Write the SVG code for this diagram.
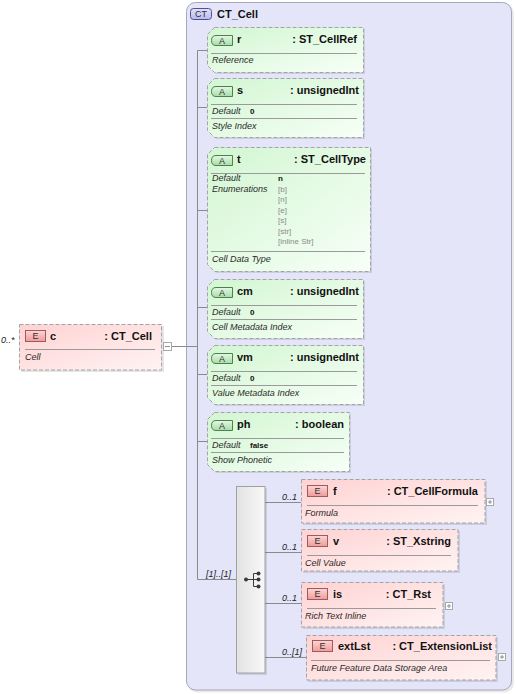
<svg xmlns="http://www.w3.org/2000/svg" width="516" height="694" viewBox="0 0 516 694">
<defs>
<linearGradient id="gA" x1="0" y1="0" x2="1" y2="1"><stop offset="0" stop-color="#d2f6d2"/><stop offset="1" stop-color="#f7fff7"/></linearGradient>
<linearGradient id="gE" x1="0" y1="0" x2="1" y2="1"><stop offset="0" stop-color="#ffd2d2"/><stop offset="1" stop-color="#fff3f3"/></linearGradient>
<linearGradient id="gSeq" x1="0" y1="0" x2="1" y2="0"><stop offset="0" stop-color="#e2e2e2"/><stop offset="1" stop-color="#f8f8f8"/></linearGradient>
<linearGradient id="gBA" x1="0" y1="0" x2="0" y2="1"><stop offset="0" stop-color="#e4f8e4"/><stop offset="1" stop-color="#a8dca8"/></linearGradient>
<linearGradient id="gBE" x1="0" y1="0" x2="0" y2="1"><stop offset="0" stop-color="#fbd6d6"/><stop offset="1" stop-color="#f09a9a"/></linearGradient>
<linearGradient id="gCT" x1="0" y1="0" x2="0" y2="1"><stop offset="0" stop-color="#e2e2fb"/><stop offset="1" stop-color="#b8b8ee"/></linearGradient>
</defs>
<style>
.box-a{fill:url(#gA);stroke:#a4a4a4;stroke-dasharray:4 2}
.box-e{fill:url(#gE);stroke:#a4a4a4;stroke-dasharray:4 2}
.sh{fill:#000;opacity:.1}
.badge-a{fill:url(#gBA);stroke:#4c804c}
.badge-e{fill:url(#gBE);stroke:#a05a5a}
.bt{font:9px "Liberation Sans",Arial,sans-serif;fill:#303030;text-anchor:middle}
.nm{font:bold 11px "Liberation Sans",Arial,sans-serif;fill:#111}
.ty{font:bold 11px "Liberation Sans",Arial,sans-serif;fill:#111;text-anchor:end}
.ds{font:italic 9px "Liberation Sans",Arial,sans-serif;fill:#2a2a2a}
.vl{font:bold 8px "Liberation Sans",Arial,sans-serif;fill:#111}
.en{font:8px "Liberation Sans",Arial,sans-serif;fill:#8a8a8a}
.sep{stroke:#9a9a9a;stroke-width:1}
.conn{stroke:#8a8a8a;stroke-width:1;fill:none}
.card{font:italic 9px "Liberation Sans",Arial,sans-serif;fill:#222}
.tog{fill:#fff;stroke:#a8a8a8}
.togl{stroke:#909090}
</style>

<g id="CT_Cell">
<rect x="188" y="4.5" width="326" height="688" rx="9" fill="#000" opacity=".08"/>
<rect x="186.5" y="2.5" width="325" height="687.5" rx="9" fill="#e5e5fa" stroke="#a6a6bc"/>
<rect x="190.5" y="8.5" width="21" height="11" rx="3" fill="url(#gCT)" stroke="#50508e"/>
<text x="201" y="17.3" class="bt" fill="#2c2c60">CT</text>
<text x="217" y="18" class="nm">CT_Cell</text>
</g>

<g id="connectors">
<path class="conn" d="M171 346.5H197.5M197.5 50.5V579.5H236"/>
<path class="conn" d="M197.5 50.5H207M197.5 107.5H207M197.5 210.5H207M197.5 307.5H207M197.5 374.5H207M197.5 441.5H207"/>
<path class="conn" d="M265 502.5H301M265 552.5H301M265 603.5H301M265 657.5H306"/>
<text x="206" y="577" class="card">[1]..[1]</text>
<text x="282" y="500" class="card">0..1</text>
<text x="282" y="550" class="card">0..1</text>
<text x="282" y="601" class="card">0..1</text>
<text x="282" y="655" class="card">0..[1]</text>
</g>

<g id="c">
<rect x="21" y="326" width="143" height="46" class="sh"/>
<rect x="19.5" y="324.5" width="142" height="45.5" class="box-e"/>
<rect x="25.5" y="330.5" width="20" height="11" class="badge-e"/>
<text x="35.5" y="339.3" class="bt">E</text>
<text x="50" y="340" class="nm">c</text>
<text x="152" y="340" class="ty">: CT_Cell</text>
<line x1="25" y1="349.5" x2="155" y2="349.5" class="sep"/>
<text x="25" y="360" class="ds">Cell</text>
<text x="1" y="343" class="card">0..*</text>
<rect x="163.5" y="342.5" width="8" height="8" class="tog"/>
<line x1="165" y1="346.5" x2="170" y2="346.5" class="togl"/>
</g>

<g id="r">
<path d="M216 29H365V74H216L209 67V36Z" class="sh"/>
<path d="M214.5 27.5H363.5V72.5H214.5L207.5 65.5V34.5Z" class="box-a"/>
<path d="M216 35.5H232.5V45.5H216Q211.5 45.5 211.5 40.5Q211.5 35.5 216 35.5Z" class="badge-a"/>
<text x="222" y="44" class="bt">A</text>
<text x="237" y="43" class="nm">r</text>
<text x="357" y="43" class="ty">: ST_CellRef</text>
<line x1="211" y1="53.5" x2="357" y2="53.5" class="sep"/>
<text x="212" y="63" class="ds">Reference</text>
</g>

<g id="s">
<path d="M216 80H365V139H216L209 132V87Z" class="sh"/>
<path d="M214.5 78.5H363.5V137.5H214.5L207.5 130.5V85.5Z" class="box-a"/>
<path d="M216 86.5H232.5V96.5H216Q211.5 96.5 211.5 91.5Q211.5 86.5 216 86.5Z" class="badge-a"/>
<text x="222" y="95" class="bt">A</text>
<text x="237" y="94" class="nm">s</text>
<text x="359" y="94" class="ty">: unsignedInt</text>
<line x1="211" y1="104.5" x2="357" y2="104.5" class="sep"/>
<text x="212" y="114" class="ds">Default</text>
<text x="250" y="114" class="vl">0</text>
<line x1="211" y1="118.5" x2="357" y2="118.5" class="sep"/>
<text x="212" y="129" class="ds">Style Index</text>
</g>

<g id="t">
<path d="M216 149H372V273H216L209 266V156Z" class="sh"/>
<path d="M214.5 147.5H370.5V271.5H214.5L207.5 264.5V154.5Z" class="box-a"/>
<path d="M216 155.5H232.5V165.5H216Q211.5 165.5 211.5 160.5Q211.5 155.5 216 155.5Z" class="badge-a"/>
<text x="222" y="164" class="bt">A</text>
<text x="237" y="163" class="nm">t</text>
<text x="366" y="163" class="ty">: ST_CellType</text>
<line x1="211" y1="173.5" x2="365" y2="173.5" class="sep"/>
<text x="212" y="181" class="ds">Default</text>
<text x="278" y="181" class="vl">n</text>
<text x="212" y="191.5" class="ds">Enumerations</text>
<text x="278" y="191.5" class="en">[b]</text>
<text x="278" y="202" class="en">[n]</text>
<text x="278" y="212.5" class="en">[e]</text>
<text x="278" y="223" class="en">[s]</text>
<text x="278" y="233.5" class="en">[str]</text>
<text x="278" y="244" class="en">[inline Str]</text>
<line x1="211" y1="251.5" x2="365" y2="251.5" class="sep"/>
<text x="212" y="262" class="ds">Cell Data Type</text>
</g>

<g id="cm">
<path d="M216 281H365V340H216L209 333V288Z" class="sh"/>
<path d="M214.5 279.5H363.5V338.5H214.5L207.5 331.5V286.5Z" class="box-a"/>
<path d="M216 287.5H232.5V297.5H216Q211.5 297.5 211.5 292.5Q211.5 287.5 216 287.5Z" class="badge-a"/>
<text x="222" y="296" class="bt">A</text>
<text x="237" y="295" class="nm">cm</text>
<text x="359" y="295" class="ty">: unsignedInt</text>
<line x1="211" y1="305.5" x2="357" y2="305.5" class="sep"/>
<text x="212" y="315" class="ds">Default</text>
<text x="250" y="315" class="vl">0</text>
<line x1="211" y1="319.5" x2="357" y2="319.5" class="sep"/>
<text x="212" y="330" class="ds">Cell Metadata Index</text>
</g>

<g id="vm">
<path d="M216 347H365V406H216L209 399V354Z" class="sh"/>
<path d="M214.5 345.5H363.5V404.5H214.5L207.5 397.5V352.5Z" class="box-a"/>
<path d="M216 353.5H232.5V363.5H216Q211.5 363.5 211.5 358.5Q211.5 353.5 216 353.5Z" class="badge-a"/>
<text x="222" y="362" class="bt">A</text>
<text x="237" y="361" class="nm">vm</text>
<text x="359" y="361" class="ty">: unsignedInt</text>
<line x1="211" y1="371.5" x2="357" y2="371.5" class="sep"/>
<text x="212" y="381" class="ds">Default</text>
<text x="250" y="381" class="vl">0</text>
<line x1="211" y1="385.5" x2="357" y2="385.5" class="sep"/>
<text x="212" y="396" class="ds">Value Metadata Index</text>
</g>

<g id="ph">
<path d="M216 414H351V473H216L209 466V421Z" class="sh"/>
<path d="M214.5 412.5H349.5V471.5H214.5L207.5 464.5V419.5Z" class="box-a"/>
<path d="M216 420.5H232.5V430.5H216Q211.5 430.5 211.5 425.5Q211.5 420.5 216 420.5Z" class="badge-a"/>
<text x="222" y="429" class="bt">A</text>
<text x="237" y="428" class="nm">ph</text>
<text x="344" y="428" class="ty">: boolean</text>
<line x1="211" y1="438.5" x2="344" y2="438.5" class="sep"/>
<text x="212" y="448" class="ds">Default</text>
<text x="250" y="448" class="vl">false</text>
<line x1="211" y1="452.5" x2="344" y2="452.5" class="sep"/>
<text x="212" y="463" class="ds">Show Phonetic</text>
</g>

<g id="sequence">
<rect x="238" y="488" width="29" height="187" class="sh"/>
<rect x="236.5" y="486.5" width="28.5" height="186.5" fill="url(#gSeq)" stroke="#a0a0a0"/>
<path d="M246 579.5H253.5M253.5 573.5V586.5M253.5 573.5H258M253.5 586.5H258M253.5 579.5H258" stroke="#3a3a3a" fill="none"/>
<circle cx="246" cy="579.5" r="2" fill="#3a3a3a"/>
<circle cx="258.5" cy="573.5" r="2" fill="#3a3a3a"/>
<circle cx="258.5" cy="579.5" r="2" fill="#3a3a3a"/>
<circle cx="258.5" cy="586.5" r="2" fill="#3a3a3a"/>
</g>

<g id="f">
<rect x="303" y="481" width="184" height="44" class="sh"/>
<rect x="301.5" y="479.5" width="183.5" height="43.5" class="box-e"/>
<rect x="307.5" y="485.5" width="20" height="11" class="badge-e"/>
<text x="317.5" y="494.3" class="bt">E</text>
<text x="333" y="495" class="nm">f</text>
<text x="478" y="495" class="ty">: CT_CellFormula</text>
<line x1="307" y1="505.5" x2="478" y2="505.5" class="sep"/>
<text x="305" y="516" class="ds">Formula</text>
<rect x="486.5" y="498.5" width="7" height="7" class="tog"/>
<path d="M488 502H492M490 500V504" class="togl"/>
</g>

<g id="v">
<rect x="303" y="531" width="157" height="42" class="sh"/>
<rect x="301.5" y="529.5" width="156.5" height="41.5" class="box-e"/>
<rect x="307.5" y="535.5" width="20" height="11" class="badge-e"/>
<text x="317.5" y="544.3" class="bt">E</text>
<text x="333" y="545" class="nm">v</text>
<text x="451" y="545" class="ty">: ST_Xstring</text>
<line x1="307" y1="555.5" x2="451" y2="555.5" class="sep"/>
<text x="305" y="566" class="ds">Cell Value</text>
</g>

<g id="is">
<rect x="303" y="584" width="142" height="45" class="sh"/>
<rect x="301.5" y="582.5" width="141.5" height="44.5" class="box-e"/>
<rect x="307.5" y="588.5" width="20" height="11" class="badge-e"/>
<text x="317.5" y="597.3" class="bt">E</text>
<text x="333" y="598" class="nm">is</text>
<text x="431" y="598" class="ty">: CT_Rst</text>
<line x1="307" y1="608.5" x2="436" y2="608.5" class="sep"/>
<text x="305" y="619" class="ds">Rich Text Inline</text>
<rect x="445.5" y="602.5" width="7" height="7" class="tog"/>
<path d="M447 606H451M449 604V608" class="togl"/>
</g>

<g id="extLst">
<rect x="308" y="637" width="190" height="45" class="sh"/>
<rect x="306.5" y="635.5" width="189.5" height="44.5" class="box-e"/>
<rect x="312.5" y="640.5" width="20" height="11" class="badge-e"/>
<text x="322.5" y="649.3" class="bt">E</text>
<text x="338" y="650" class="nm">extLst</text>
<text x="492" y="650" class="ty">: CT_ExtensionList</text>
<line x1="311" y1="660.5" x2="490" y2="660.5" class="sep"/>
<text x="311" y="671" class="ds">Future Feature Data Storage Area</text>
<rect x="498.5" y="653.5" width="7" height="7" class="tog"/>
<path d="M500 657H504M502 655V659" class="togl"/>
</g>
</svg>
